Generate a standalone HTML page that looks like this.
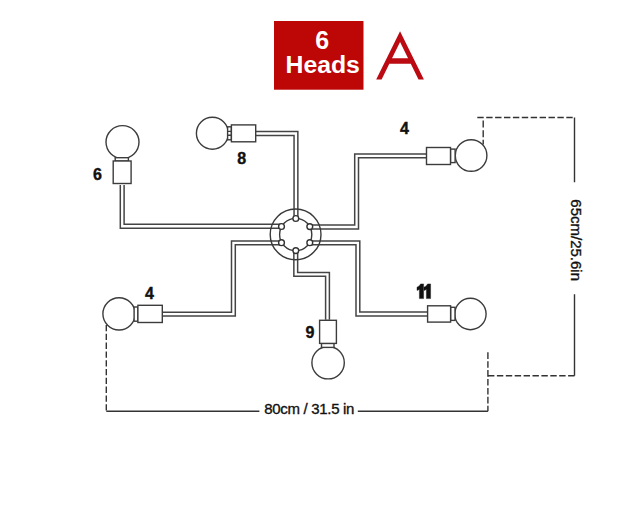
<!DOCTYPE html>
<html>
<head>
<meta charset="utf-8">
<style>
html,body{margin:0;padding:0;background:#fff;}
body{width:640px;height:529px;overflow:hidden;position:relative;}
svg{position:absolute;left:0;top:0;}
text{font-family:"Liberation Sans",sans-serif;}
</style>
</head>
<body>
<svg width="640" height="529" viewBox="0 0 640 529">
  <rect x="0" y="0" width="640" height="529" fill="#fff"/>

  <!-- header -->
  <rect x="274" y="21" width="89.5" height="68.7" fill="#bd0606"/>
  <text x="322.3" y="49.3" font-size="25" font-weight="bold" fill="#fff" text-anchor="middle">6</text>
  <text x="322.7" y="72.6" font-size="24.8" font-weight="bold" fill="#fff" text-anchor="middle">Heads</text>
  <path d="M376.2,79.4 L400.05,31.2 L423.9,79.4 L418.5,79.4 L410.78,63.8 L389.32,63.8 L381.6,79.4 Z M400.05,42.1 L392.04,58.3 L408.06,58.3 Z" fill="#bb0a12" fill-rule="evenodd"/>

  <!-- pipes: dark thick stroke + white core -->
  <g fill="none" stroke-linejoin="miter" stroke-linecap="butt">
    <g stroke="#444" stroke-width="5.3">
      <path d="M122.2,185 V226.25 H281.5"/>
      <path d="M255,133.5 H295.95 V218.5"/>
      <path d="M426.5,155.8 H356.6 V227 H309.8"/>
      <path d="M427.5,314 H357.9 V242.85 H309.8"/>
      <path d="M295.75,250.5 V274.35 H327.5 V319.8"/>
      <path d="M162.5,314.15 H233.4 V242.9 H281.5"/>
    </g>
    <g stroke="#fff" stroke-width="2.3">
      <path d="M122.2,185 V226.25 H281.5"/>
      <path d="M255,133.5 H295.95 V218.5"/>
      <path d="M426.5,155.8 H356.6 V227 H309.8"/>
      <path d="M427.5,314 H357.9 V242.85 H309.8"/>
      <path d="M295.75,250.5 V274.35 H327.5 V319.8"/>
      <path d="M162.5,314.15 H233.4 V242.9 H281.5"/>
    </g>
  </g>

  <!-- hub -->
  <g fill="none" stroke="#3a3a3a" stroke-width="1.4">
    <circle cx="295.6" cy="234.4" r="25.4"/>
    <circle cx="295.7" cy="234.5" r="16.1"/>
  </g>
  <g fill="#fff" stroke="#333" stroke-width="1.4">
    <circle cx="295.8" cy="218.5" r="2.9"/>
    <circle cx="309.8" cy="226.6" r="2.9"/>
    <circle cx="309.8" cy="242.7" r="2.9"/>
    <circle cx="295.8" cy="250.6" r="2.9"/>
    <circle cx="281.5" cy="242.7" r="2.9"/>
    <circle cx="281.5" cy="226.5" r="2.9"/>
  </g>

  <!-- bulbs -->
  <g fill="#fff" stroke="#3c3c3c" stroke-width="1.4">
    <!-- 6 -->
    <circle cx="122.5" cy="142.1" r="16.5"/>
    <rect x="115.2" y="157.7" width="13.2" height="3.3"/>
    <rect x="113.2" y="161" width="17.9" height="22.5"/>
    <!-- 8 -->
    <circle cx="212.4" cy="133.2" r="16"/>
    <rect x="227.6" y="126.8" width="3.8" height="13"/>
    <path d="M227.6,131.35 H231.4 M227.6,135.3 H231.4" fill="none"/>
    <rect x="231.4" y="124.9" width="24.3" height="16.9"/>
    <!-- 4 TR -->
    <circle cx="471.1" cy="155.5" r="15.8"/>
    <rect x="450.5" y="149.1" width="4.6" height="13.5"/>
    <rect x="426.5" y="147.5" width="24" height="17"/>
    <!-- 11 -->
    <circle cx="470.4" cy="314" r="15.7"/>
    <rect x="450.6" y="307.3" width="4.4" height="13.1"/>
    <rect x="427.6" y="305.8" width="23" height="16.3"/>
    <!-- 9 -->
    <circle cx="328.1" cy="362.7" r="16.2"/>
    <rect x="321.5" y="343.4" width="12.5" height="4"/>
    <rect x="319.6" y="320.3" width="16.8" height="23.1"/>
    <!-- 4 BL -->
    <circle cx="119.05" cy="313.85" r="16.15"/>
    <rect x="134.1" y="307" width="3.8" height="14.2"/>
    <rect x="137.9" y="305.3" width="24.4" height="17.2"/>
  </g>

  <!-- labels -->
  <g font-weight="bold" fill="#111" stroke="#111" stroke-width="0.4" font-size="16" text-anchor="middle">
    <text x="97.55" y="180">6</text>
    <text x="241.7" y="163.6">8</text>
    <text x="404.5" y="133.6">4</text>
    <text x="309.95" y="337.8">9</text>
    <text x="149.45" y="298.5">4</text>
    <path d="M423.6,283.9 V298.6 H419.4 V289.3 Q418.4,290 417,290.4 V287.2 Q419.6,286.2 420.6,283.9 Z M430.6,283.9 V298.6 H426.4 V289.3 Q425.4,290 424,290.4 V287.2 Q426.6,286.2 427.6,283.9 Z" fill="#111"/>
  </g>

  <!-- dimensions -->
  <g fill="none" stroke="#333" stroke-width="1.4">
    <path d="M574.5,117.5 V182.3 M574.5,294.2 V375.8 M106.3,411.2 H259.4 M357.8,411.2 H487.9"/>
  </g>
  <g fill="none" stroke="#333" stroke-width="1.4" stroke-dasharray="6.4 2.5">
    <path d="M477.3,117.5 H574.5"/>
    <path d="M483.2,120.6 V144.5" stroke-dasharray="7 2.6"/>
    <path d="M574.5,375.8 H487.9"/>
    <path d="M487.9,352.3 V411.2" stroke-dasharray="6.6 2.3"/>
    <path d="M106.3,325 V411.2" stroke-dasharray="6.3 2.5"/>
  </g>
  <text x="264.2" y="414.1" font-size="15" fill="#111" stroke="#111" stroke-width="0.35" textLength="90.2" lengthAdjust="spacing">80cm / 31.5 in</text>
  <text transform="translate(570.6,199.3) rotate(90)" font-size="15" fill="#111" stroke="#111" stroke-width="0.35">65cm/25.6in</text>
</svg>
</body>
</html>
